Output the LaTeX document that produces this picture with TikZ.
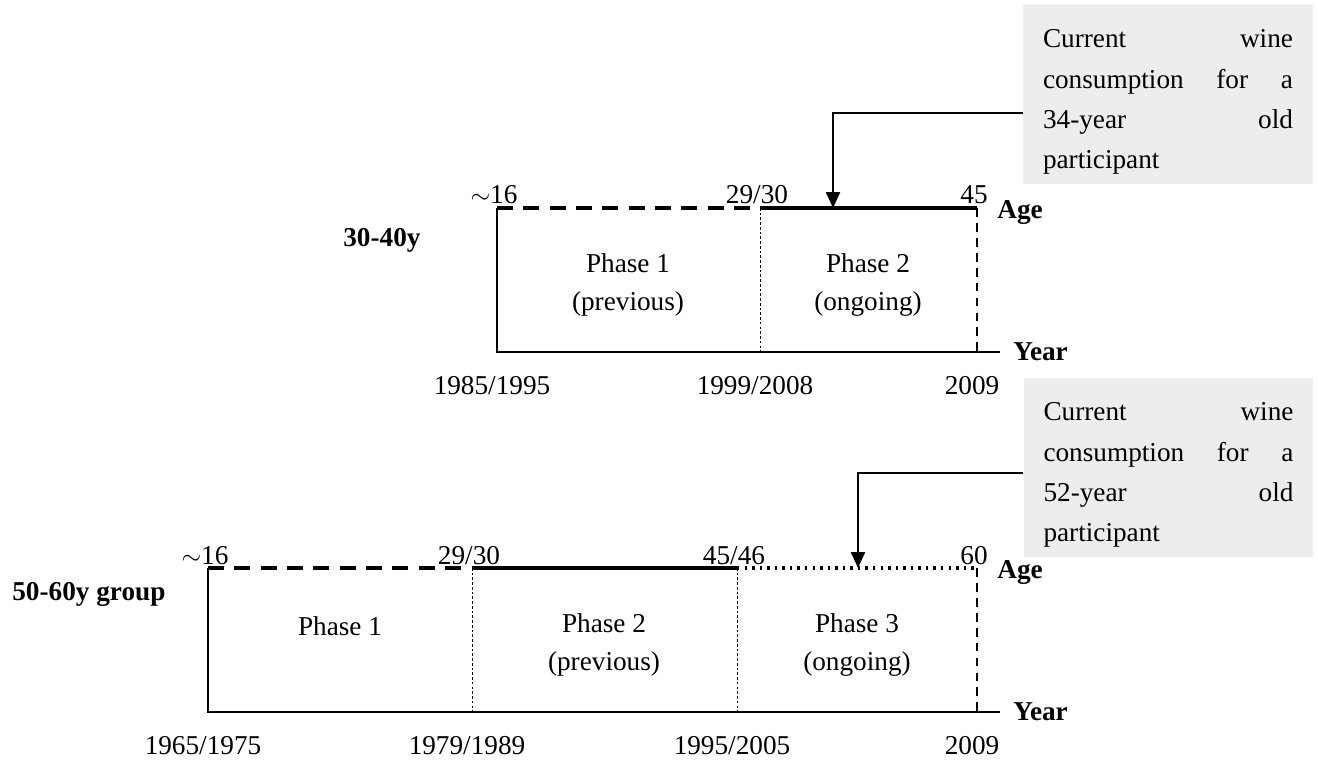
\documentclass[tikz,border=0pt]{standalone}
\usepackage{fontspec}
\setmainfont{Liberation Serif}
\usetikzlibrary{arrows.meta}

\tikzset{
  txt/.style={font=\fontsize{15.5}{21.6}\selectfont, inner sep=0pt},
  hdr/.style={font=\fontsize{15.5}{21.6}\selectfont\bfseries, inner sep=0pt},
  frame/.style={line width=1pt},
  agedash/.style={line width=2pt, dash pattern=on 9pt off 6pt},
  agesolid/.style={line width=2pt},
  agedot/.style={line width=1.8pt, dash pattern=on 1.4pt off 2.9pt},
  phasesep/.style={line width=0.5pt, dash pattern=on 1.5pt off 1.2pt},
  endsep/.style={line width=0.8pt, dash pattern=on 5pt off 3.5pt},
  note/.style={fill=black!7, text width=5cm, inner xsep=0.4cm, inner ysep=0pt,
    minimum height=3.6cm, align=left, font=\fontsize{15.5}{23}\selectfont},
  pointer/.style={line width=0.9pt, -{Triangle[length=9pt,width=8pt]}}
}

\begin{document}
\begin{tikzpicture}[x=0.02cm, y=-0.02cm]
  \useasboundingbox (0,0) rectangle (1318,760);

  % 30-40y group
  \coordinate (ta0) at (497,208);
  \coordinate (ta1) at (760,208);
  \coordinate (ta2) at (977,208);
  \coordinate (tb0) at (497,352);
  \coordinate (tb1) at (760,352);
  \coordinate (tb2) at (977,352);
  \coordinate (tend) at (1000,352);

  \node[hdr, anchor=base west] (grpA) at (343,247) {30-40y};
  \foreach \c/\lab in {ta0/{$\sim$16}, ta1/{29/30}, ta2/45}
    \node[txt, anchor=base] (age-\c) at ([shift={(-3,-4)}]\c) {\lab};
  \foreach \c/\lab in {tb0/{1985/1995}, tb1/{1999/2008}, tb2/2009}
    \node[txt, anchor=base] (yr-\c) at ([shift={(-5,42)}]\c) {\lab};
  \node[txt, align=center] (phA1) at (628,285) {Phase 1\\(previous)};
  \node[txt, align=center] (phA2) at (868,285) {Phase 2\\(ongoing)};
  \node[hdr, anchor=base west] (ageA) at (997,218) {Age};
  \node[hdr, anchor=base west] (yearA) at (1013,360) {Year};

  \draw[frame] (ta0) -- (tb0) -- (tend);
  \draw[agedash] (ta0) -- (ta1);
  \draw[agesolid] (ta1) -- (ta2);
  \draw[phasesep] (ta1) -- (tb1);
  \draw[endsep] (ta2) -- (tb2);

  \node[note] (n34) at (1168,94.5) {\rule{0pt}{19pt}Current\hfill wine\\consumption\hfill for\hfill a\\34-year\hfill old\\participant};
  \coordinate (k34) at (833,113);
  \coordinate (p34) at (833,208);
  \draw[pointer] (n34.west |- k34) -- (k34) -- (p34);

  % 50-60y group
  \coordinate (ba0) at (208,568);
  \coordinate (ba1) at (472,568);
  \coordinate (ba2) at (737,568);
  \coordinate (ba3) at (977,568);
  \coordinate (bb0) at (208,712);
  \coordinate (bb1) at (472,712);
  \coordinate (bb2) at (737,712);
  \coordinate (bb3) at (977,712);
  \coordinate (bend) at (1000,712);

  \node[hdr, anchor=base west] (grpB) at (12,600) {50-60y group};
  \foreach \c/\lab in {ba0/{$\sim$16}, ba1/{29/30}, ba2/{45/46}, ba3/60}
    \node[txt, anchor=base] (age-\c) at ([shift={(-3,-4)}]\c) {\lab};
  \foreach \c/\lab in {bb0/{1965/1975}, bb1/{1979/1989}, bb2/{1995/2005}, bb3/2009}
    \node[txt, anchor=base] (yr-\c) at ([shift={(-5,42)}]\c) {\lab};
  \node[txt] (phB1) at (340,626) {Phase 1};
  \node[txt, align=center] (phB2) at (604,645) {Phase 2\\(previous)};
  \node[txt, align=center] (phB3) at (857,645) {Phase 3\\(ongoing)};
  \node[hdr, anchor=base west] (ageB) at (997,578) {Age};
  \node[hdr, anchor=base west] (yearB) at (1013,720) {Year};

  \draw[frame] (ba0) -- (bb0) -- (bend);
  \draw[agedash] (ba0) -- (ba1);
  \draw[agesolid] (ba1) -- (ba2);
  \draw[agedot] (ba2) -- (ba3);
  \draw[phasesep] (ba1) -- (bb1);
  \draw[phasesep] (ba2) -- (bb2);
  \draw[endsep] (ba3) -- (bb3);

  \node[note] (n52) at (1168.5,467.5) {\rule{0pt}{19pt}Current\hfill wine\\consumption\hfill for\hfill a\\52-year\hfill old\\participant};
  \coordinate (k52) at (858,473);
  \coordinate (p52) at (858,568);
  \draw[pointer] (n52.west |- k52) -- (k52) -- (p52);
\end{tikzpicture}
\end{document}
